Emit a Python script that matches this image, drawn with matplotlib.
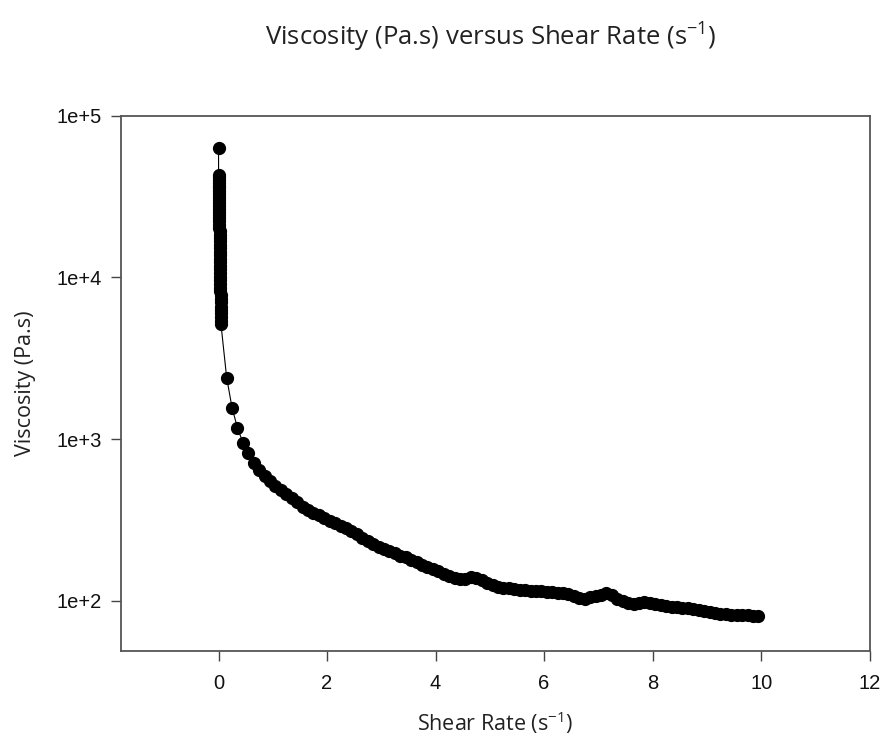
import matplotlib
matplotlib.use("Agg")
import matplotlib.pyplot as plt

# first point and the cluster recorded at almost zero shear rate
start_rate = [0.0]
start_visc = [63000]

cluster_rate = [0.000, 0.001, 0.002, 0.003, 0.004, 0.005, 0.006, 0.007, 0.008, 0.009,
                0.010, 0.011, 0.012, 0.013, 0.014, 0.015, 0.016, 0.017, 0.018, 0.019,
                0.020, 0.021, 0.022, 0.023, 0.024, 0.025, 0.026, 0.027, 0.028, 0.029,
                0.030, 0.031, 0.032, 0.033, 0.034, 0.035, 0.036, 0.037, 0.038, 0.039,
                0.040, 0.041, 0.042, 0.043, 0.044, 0.045]
cluster_visc = [43000, 41500, 40000, 38500, 37000, 35500, 34000, 32700, 31400, 30100,
                28900, 27700, 26500, 25400, 24300, 23200, 22200, 21200, 20200, 19300,
                18400, 17500, 16700, 15900, 15100, 14400, 13700, 13000, 12400, 11800,
                11200, 10600, 10100, 9600, 9100, 8600, 8200, 7800, 7400, 7000,
                6600, 6300, 6000, 5700, 5400, 5150]

# rest of the ramp
ramp_rate = [0.15, 0.25, 0.35, 0.45, 0.55, 0.65, 0.75, 0.85, 0.95,
             1.05, 1.15, 1.25, 1.35, 1.45, 1.55, 1.65, 1.75, 1.85, 1.95,
             2.05, 2.15, 2.25, 2.35, 2.45, 2.55, 2.65, 2.75, 2.85, 2.95,
             3.05, 3.15, 3.25, 3.35, 3.45, 3.55, 3.65, 3.75, 3.85, 3.95,
             4.05, 4.15, 4.25, 4.35, 4.45, 4.55, 4.65, 4.75, 4.85, 4.95,
             5.05, 5.15, 5.25, 5.35, 5.45, 5.55, 5.65, 5.75, 5.85, 5.95,
             6.05, 6.15, 6.25, 6.35, 6.45, 6.55, 6.65, 6.75, 6.85, 6.95,
             7.05, 7.15, 7.25, 7.35, 7.45, 7.55, 7.65, 7.75, 7.85, 7.95,
             8.05, 8.15, 8.25, 8.35, 8.45, 8.55, 8.65, 8.75, 8.85, 8.95,
             9.05, 9.15, 9.25, 9.35, 9.45, 9.55, 9.65, 9.75, 9.85, 9.95]
ramp_visc = [2400, 1560, 1170, 950, 815, 715, 645, 592, 550,
             515, 482, 455, 430, 405, 382, 363, 348, 338, 325,
             313, 302, 291, 280, 269, 257, 245, 234, 225, 216,
             208, 202, 196, 190, 185, 179, 173, 167, 162, 156,
             152, 147, 143, 139, 136, 137, 140, 139, 134, 129,
             125, 122, 120, 119, 118, 117, 116, 115, 114, 114,
             113, 113, 112, 112, 110, 107, 104, 103, 105, 107,
             109, 111, 108, 103, 99, 96.5, 96, 97, 97.5, 97,
             95, 94, 93, 92, 91, 90, 89.5, 88.5, 87.5, 86.5,
             85.5, 84, 83, 82.5, 82, 81.5, 81, 81, 80.5, 80]

rate = start_rate + cluster_rate + ramp_rate
visc = start_visc + cluster_visc + ramp_visc

x_ticks = [0, 2, 4, 6, 8, 10, 12]
y_ticks = [1e2, 1e3, 1e4, 1e5]
y_labels = ["1e+2", "1e+3", "1e+4", "1e+5"]

plt.rcParams['mathtext.default'] = 'regular'

fig = plt.figure(figsize=(8.82, 7.42), dpi=100)
ax = fig.add_axes([0.137, 0.123, 0.849, 0.721])

ax.plot(rate, visc, color="black", lw=0.8, marker="o", ms=8.5,
        markerfacecolor="black", markeredgecolor="black")

ax.set_yscale("log")
ax.set_xlim(-1.8, 12)
ax.set_ylim(49, 1e5)
ax.set_xticks(x_ticks)
ax.set_xticklabels([str(t) for t in x_ticks])
ax.set_yticks(y_ticks)
ax.set_yticklabels(y_labels)
ax.minorticks_off()

for lab in ax.get_xticklabels() + ax.get_yticklabels():
    lab.set_family("Liberation Sans")
    lab.set_fontsize(14.5)
    lab.set_color("#111111")
ax.tick_params(axis="x", direction="out", length=7, width=1, color="#444444", pad=10)
ax.tick_params(axis="y", direction="out", length=7, width=1, color="#444444", pad=7)
ax.tick_params(top=False, right=False)

for sp in ax.spines.values():
    sp.set_color("#555555")
    sp.set_linewidth(1.3)

lab_font = dict(family="Open Sans", fontsize=15.5, color="#222222")
ax.set_xlabel("Shear Rate (s$^{-1}$)", va="center", **lab_font)
ax.set_ylabel("Viscosity (Pa.s)", va="center", **lab_font)
ax.xaxis.set_label_coords(0.5, -0.135)
ax.yaxis.set_label_coords(-0.127, 0.5)
fig.text(0.556, 0.949, "Viscosity (Pa.s) versus Shear Rate (s$^{-1}$)",
         ha="center", va="center", family="Open Sans", fontsize=18.5,
         color="#222222")

fig.savefig("out.png", dpi=100)
